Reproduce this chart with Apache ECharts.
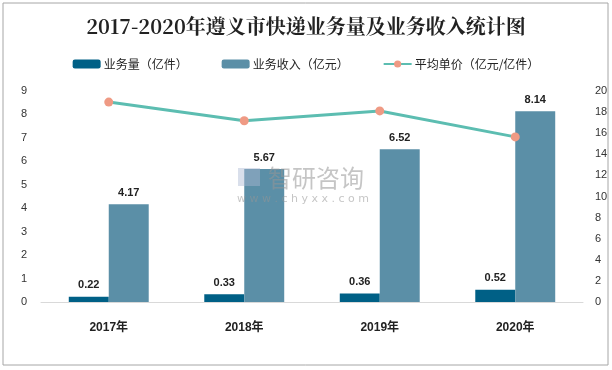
<!DOCTYPE html>
<html>
<head>
<meta charset="utf-8">
<script src="https://cdn.jsdelivr.net/npm/echarts@6/dist/echarts.min.js"></script>
<style>
html,body{margin:0;padding:0;background:#fff;}
#c{width:612px;height:370px;}
</style>
</head>
<body>
<div id="c"></div>
<script>
const categories = ['2017年', '2018年', '2019年', '2020年'];
const volume = [0.22, 0.33, 0.36, 0.52];
const revenue = [4.17, 5.67, 6.52, 8.14];
const unitPrice = [18.95, 17.18, 18.11, 15.65];

const chart = echarts.init(document.getElementById('c'));
const labelStyle = {show: true, position: 'top', color: '#222', fontSize: 11, fontWeight: 'bold', fontFamily: 'Liberation Sans, Arial, sans-serif', distance: 6};
chart.setOption({
  backgroundColor: '#fff',
  animation: false,
  title: {
    text: '2017-2020年遵义市快递业务量及业务收入统计图',
    left: 'center', top: 11,
    textStyle: {fontFamily: 'Noto Serif CJK SC, Noto Sans CJK SC, serif', fontSize: 20, fontWeight: 'bold', color: '#222'}
  },
  graphic: [
    {type: 'rect', shape: {x: 3, y: 3, width: 605, height: 362}, style: {fill: 'none', stroke: '#a6a6a6', lineWidth: 1}, silent: true},
    {type: 'text', left: 268, top: 166, z: 100, style: {text: '智研咨询', font: '24px "Noto Sans CJK SC"', fill: 'rgba(150,150,150,0.55)'}},
    {type: 'text', left: 237, top: 194, z: 100, style: {text: 'w w w . c h y x x . c o m', font: '11px "DejaVu Sans"', fill: 'rgba(150,150,150,0.55)'}},
    {type: 'rect', z: 100, shape: {x: 238, y: 168, width: 22, height: 18}, style: {fill: 'rgba(170,185,210,0.45)'}}
  ],
  legend: {
    top: 53, left: 'center', itemGap: 34, itemWidth: 28, itemHeight: 9,
    textStyle: {fontFamily: 'Noto Sans CJK SC', fontSize: 12, color: '#222', padding: [0, 0, 0, -2]},
    data: [
      {name: '业务量（亿件）'},
      {name: '业务收入（亿元）'},
      {name: '平均单价（亿元/亿件）'}
    ]
  },
  grid: {left: 41, right: 29, top: 91, bottom: 68},
  xAxis: {
    type: 'category', data: categories,
    axisLine: {lineStyle: {color: '#d9d9d9'}},
    axisTick: {show: false},
    axisLabel: {color: '#222', fontSize: 12, fontWeight: 'bold', fontFamily: 'Liberation Sans, Noto Sans CJK SC', margin: 20}
  },
  yAxis: [
    {type: 'value', min: 0, max: 9, interval: 1, splitLine: {show: false},
     axisLabel: {color: '#333', fontSize: 11, margin: 14, fontFamily: 'Liberation Sans'}},
    {type: 'value', min: 0, max: 20, interval: 2, splitLine: {show: false},
     axisLabel: {color: '#333', fontSize: 11, margin: 12, fontFamily: 'Liberation Sans'}}
  ],
  series: [
    {name: '业务量（亿件）', type: 'bar', data: volume, barGap: '0%', barCategoryGap: '41%',
     itemStyle: {color: '#006086'}, label: labelStyle},
    {name: '业务收入（亿元）', type: 'bar', data: revenue,
     itemStyle: {color: '#5b8fa7'}, label: labelStyle},
    {name: '平均单价（亿元/亿件）', type: 'line', yAxisIndex: 1, data: unitPrice,
     symbol: 'circle', symbolSize: 9,
     lineStyle: {color: '#5cbdb1', width: 3},
     itemStyle: {color: '#ef9a84'}}
  ]
});
</script>
</body>
</html>
